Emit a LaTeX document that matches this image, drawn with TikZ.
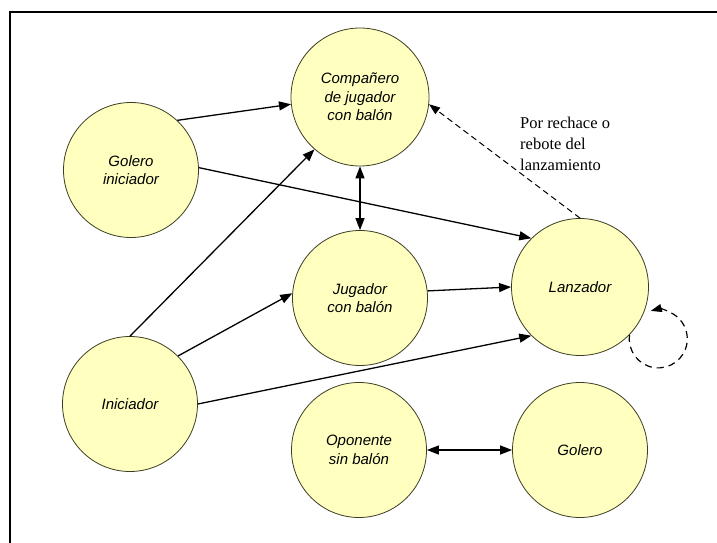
\documentclass[tikz,border=0pt]{standalone}
\usepackage{fontspec}
\setmainfont{Liberation Sans}
\newfontfamily\labelfont{Liberation Serif}
\usetikzlibrary{arrows.meta}
\definecolor{circfill}{RGB}{255,255,192}
\definecolor{circline}{RGB}{60,60,35}
\begin{document}
\begin{tikzpicture}[x=1pt,y=1pt,
  state/.style={circle, draw=circline, line width=0.8pt, fill=circfill, minimum size=135pt, inner sep=0pt, align=center, font=\fontsize{15}{18.5}\selectfont\itshape},
  conn/.style={line width=1.3pt, -{Triangle[length=12pt,width=9pt]}},
  biconn/.style={line width=1.3pt, {Triangle[length=12pt,width=9pt]}-{Triangle[length=12pt,width=9pt]}},
  dconn/.style={line width=1pt, dash pattern=on 6pt off 4pt, -{Triangle[length=11pt,width=8pt]}},
  loopconn/.style={line width=1.2pt, dash pattern=on 7pt off 5pt, -{Triangle[length=11pt,width=8pt]}},
  note/.style={align=left, anchor=west, inner sep=0pt, font=\labelfont\fontsize{16.5}{21}\selectfont},
]
\useasboundingbox (0,0) rectangle (717,-543);
\fill[white] (0,0) rectangle (717,-543);
\draw[line width=2pt] (717,-12) -- (10,-12) -- (10,-543);

\node[state] (gi)   at (131,-170) {Golero\\iniciador};
\node[state, minimum size=138pt] (comp) at (360,-97) {Compañero\\de jugador\\con balón};
\node[state] (jug)  at (360,-298) {Jugador\\con balón};
\node[state, minimum size=137pt] (lanz) at (580,-287) {Lanzador};
\node[state] (ini)  at (130,-404) {Iniciador};
\node[state] (opo)  at (359,-450) {Oponente\\sin balón};
\node[state] (gol)  at (580,-450) {Golero};

\node[note] (lbl) at (520,-144) {Por rechace o\\rebote del\\lanzamiento};

\draw[conn] (gi.47) -- (comp.186);
\draw[conn] (gi.2) -- (lanz.135);
\draw[conn] (ini.90) -- (comp.229);
\draw[conn] (ini.45) -- (jug.176);
\draw[conn] (ini.0) -- (lanz.225);
\draw[conn] (jug.6) -- (lanz.180);
\draw[biconn] (comp.270) -- (jug.90);
\draw[biconn] (opo.0) -- (gol.180);
\draw[dconn] (lanz.90) -- (comp.-6);
\draw[loopconn] (lanz.-44) arc[start angle=172, end angle=465, radius=29];
\end{tikzpicture}
\end{document}
